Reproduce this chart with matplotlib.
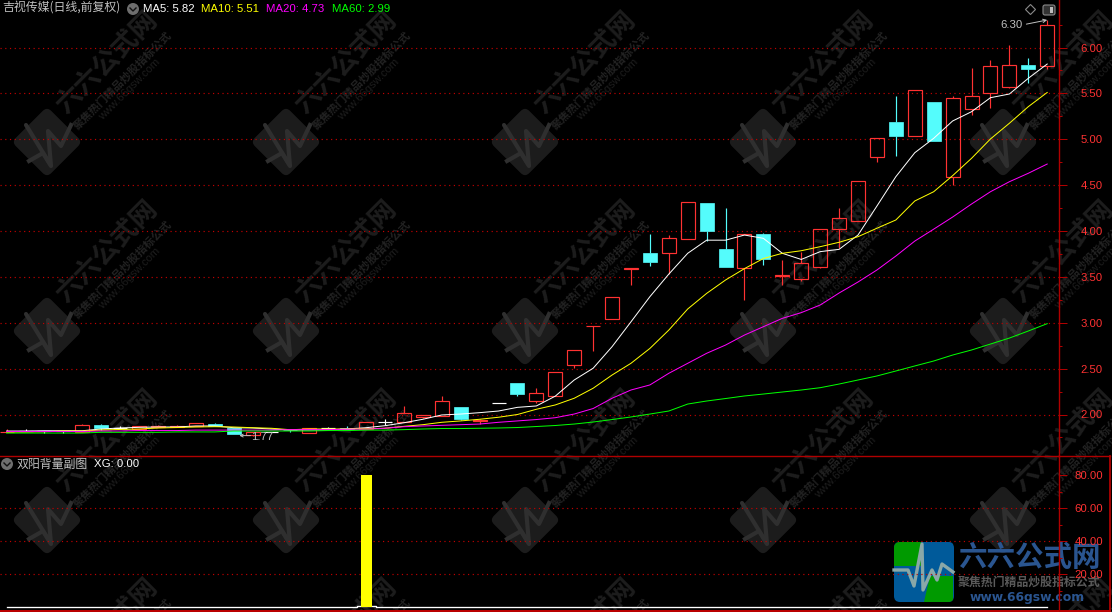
import numpy as np
import matplotlib
matplotlib.use('Agg')
import matplotlib.pyplot as plt
from matplotlib.patches import FancyBboxPatch, Polygon, Circle
from matplotlib.transforms import Affine2D
from matplotlib.ticker import FixedLocator, FuncFormatter

FONT = ['Noto Sans CJK SC', 'Liberation Sans', 'DejaVu Sans']
NUM = ['Liberation Sans', 'DejaVu Sans']

opens = [1.81,1.82,1.823,1.823,1.8125,1.886,1.85,1.84,1.86,1.86,
         1.88,1.896,1.856,1.777,1.81,1.835,1.795,1.85,1.85,1.845,
         1.915,1.92,1.976,1.987,2.082,1.93,2.122,2.343,2.15,2.205,
         2.543,2.96,3.044,3.59,3.76,3.763,3.916,4.305,3.804,3.6,
         3.967,3.505,3.48,3.611,4.018,4.112,4.81,5.188,5.032,5.406,
         4.585,5.326,5.50,5.573,5.806,5.80]
highs = [1.842,1.84,1.823,1.823,1.893,1.897,1.875,1.88,1.886,1.886,
         1.904,1.907,1.856,1.8125,1.81,1.835,1.853,1.865,1.871,1.915,
         1.948,2.089,2.0,2.2,2.082,1.955,2.122,2.343,2.289,2.46,
         2.70,2.97,3.277,3.60,3.967,3.953,4.313,4.305,4.25,3.97,
         3.98,3.684,3.774,4.02,4.247,4.548,5.01,5.471,5.533,5.406,
         5.468,5.773,5.864,6.027,5.889,6.30]
lows = [1.81,1.82,1.80,1.80,1.8125,1.83,1.85,1.84,1.86,1.86,
        1.88,1.871,1.787,1.77,1.81,1.805,1.795,1.85,1.84,1.845,
        1.886,1.915,1.96,1.987,1.94,1.893,2.122,2.205,2.122,2.205,
        2.504,2.692,3.044,3.411,3.618,3.531,3.916,3.894,3.608,3.248,
        3.633,3.411,3.458,3.593,3.81,4.112,4.755,4.817,5.032,4.984,
        4.501,5.264,5.344,5.562,5.617,5.77]
closes = [1.8125,1.82,1.823,1.823,1.886,1.853,1.85,1.875,1.875,1.875,
          1.904,1.871,1.787,1.8125,1.81,1.83,1.853,1.85,1.84,1.915,
          1.915,2.016,2.0,2.147,1.951,1.94,2.122,2.227,2.231,2.46,
          2.70,2.97,3.277,3.60,3.662,3.92,4.313,4.0,3.608,3.964,
          3.695,3.515,3.648,4.018,4.138,4.548,5.01,5.039,5.533,4.984,
          5.446,5.468,5.795,5.806,5.766,6.24]
ma5 = [1.82,1.82,1.823,1.823,1.823,1.842,1.853,1.86,1.864,1.864,
       1.875,1.875,1.856,1.853,1.842,1.831,1.831,1.831,1.842,1.856,
       1.878,1.91,1.948,1.995,2.005,2.02,2.038,2.078,2.093,2.20,
       2.376,2.504,2.739,3.01,3.284,3.53,3.757,3.90,3.90,3.956,
       3.92,3.757,3.69,3.775,3.80,3.956,4.272,4.592,4.853,5.01,
       5.199,5.30,5.453,5.493,5.664,5.82]
ma10 = [1.809,1.809,1.8125,1.82,1.82,1.831,1.837,1.842,1.853,1.858,
        1.864,1.867,1.864,1.856,1.85,1.834,1.842,1.842,1.842,1.845,
        1.85,1.871,1.889,1.915,1.93,1.948,1.97,2.0,2.057,2.104,
        2.177,2.286,2.43,2.558,2.72,2.92,3.15,3.32,3.466,3.59,
        3.70,3.757,3.785,3.829,3.877,3.938,4.03,4.12,4.327,4.428,
        4.603,4.792,5.003,5.174,5.355,5.51]
ma20 = [1.815,1.815,1.815,1.815,1.815,1.82,1.82,1.825,1.825,1.825,
        1.83,1.83,1.83,1.83,1.83,1.835,1.835,1.835,1.84,1.84,
        1.85,1.867,1.875,1.882,1.889,1.896,1.915,1.93,1.945,1.965,
        2.005,2.065,2.177,2.267,2.322,2.449,2.558,2.667,2.757,2.866,
        2.957,3.048,3.11,3.193,3.324,3.444,3.575,3.727,3.89,4.02,
        4.152,4.294,4.428,4.537,4.629,4.73]
ma60 = [1.798,1.798,1.798,1.798,1.798,1.806,1.806,1.806,1.806,1.81,
        1.81,1.81,1.82,1.82,1.82,1.82,1.82,1.825,1.825,1.83,
        1.83,1.835,1.842,1.847,1.847,1.85,1.853,1.858,1.869,1.88,
        1.896,1.918,1.945,1.973,2.005,2.038,2.114,2.147,2.174,2.202,
        2.223,2.245,2.267,2.292,2.332,2.376,2.42,2.474,2.529,2.583,
        2.648,2.703,2.768,2.833,2.91,2.99]
xg_index = [19]
xg_values = [80.0]
xg_line = [0.0]*19 + [0.9] + [0.0]*36

RED = '#ff3232'
CYAN = '#54fcfc'
AXIS = '#b00000'
GRID = '#c00000'
W, H = 1112, 612

fig = plt.figure(figsize=(W/100, H/100), dpi=100, facecolor='black')

def box(l, t, r, b):
    return [l/W, 1-b/H, (r-l)/W, (b-t)/H]

# background layer in pixel coordinates
bg = fig.add_axes([0, 0, 1, 1], zorder=0)
bg.set_xlim(0, W); bg.set_ylim(H, 0); bg.axis('off')

def watermark(cx, cy):
    s = 50
    tr = Affine2D().rotate_deg_around(cx, cy, 45) + bg.transData
    bg.add_patch(FancyBboxPatch((cx-s/2+5, cy-s/2+5), s-10, s-10,
                 boxstyle='round,pad=5,rounding_size=6', fc='#1c1c1c', ec='none', transform=tr))
    bg.plot([cx-21, cx+3], [cy-17, cy+22], color='#2f2f2f', lw=3, solid_capstyle='round')
    bg.plot([cx-18, cx-4, cx+4, cx+1, cx+14, cx+24], [cy+19, cy+11, cy+24, cy-11, cy+4, cy-17],
            color='#2f2f2f', lw=3, solid_joinstyle='round')
    bg.text(cx+60, cy-80, '六六公式网', rotation=45, rotation_mode='anchor', ha='center', va='center',
            color='#1d1d1d', fontsize=19, family=FONT, fontweight='bold', clip_on=True)
    bg.text(cx+75, cy-62, '聚焦热门精品炒股指标公式', rotation=45, rotation_mode='anchor', ha='center', va='center',
            color='#222222', fontsize=8, family=FONT, fontweight='bold', clip_on=True)
    bg.text(cx+83, cy-53, 'www.66gsw.com', rotation=45, rotation_mode='anchor', ha='center', va='center',
            color='#1d1d1d', fontsize=8, family=NUM, clip_on=True)

for cy in (142, 331, 520, 709):
    for cx in (47, 286, 525, 763, 1003):
        watermark(cx, cy)

# logo
clip = FancyBboxPatch((899, 547), 50, 50, boxstyle='round,pad=5,rounding_size=6',
                      fc='#005a9a', ec='none', transform=bg.transData)
bg.add_patch(clip)
for pts, col in (([(894, 542), (921, 542), (921, 566), (910, 566), (894, 566)], '#009a00'),
                 ([(921, 542), (953, 542), (953, 568), (921, 568)], '#005a9a'),
                 ([(930, 576), (953, 576), (953, 602), (924, 602)], '#009a00')):
    p = Polygon(pts, closed=True, fc=col, ec='none', transform=bg.transData)
    bg.add_patch(p); p.set_clip_path(clip)
bg.plot([894, 908, 914, 922, 923, 932, 937, 942, 953], [570, 570, 586, 544, 590, 570, 580, 564, 572],
        color='#8aa8a8', lw=2.4)
bg.text(1029, 558, '六六公式网', ha='center', va='center', color='#2a5590', fontsize=20.5,
        family=FONT, fontweight='bold')
bg.text(1029, 582, '聚焦热门精品炒股指标公式', ha='center', va='center', color='#5a5a5a', fontsize=8.6,
        family=FONT, fontweight='bold')
bg.text(1027, 598, 'www.66gsw.com', ha='center', va='center', color='#2a5590', fontsize=8.9,
        family='DejaVu Sans', fontweight='bold')

# shared x scale: pixel = 6.6 + 18.92 * i
def x_limits(right):
    return (0-6.6)/18.92, (right-6.6)/18.92

ax = fig.add_axes(box(0, 0, 1058.5, 455.5), zorder=1)
ax.patch.set_visible(False)
ax.set_xlim(*x_limits(1058.5))
ax.set_ylim(2+(414.5-455.5)/91.75, 2+(414.5-0)/91.75)

x = np.arange(len(opens))
o, h, l, c = map(np.array, (opens, highs, lows, closes))
up = c > o; dn = c < o; flat = c == o
top = np.maximum(o, c); bot = np.minimum(o, c)
bw = 14/18.92
for mask, col in ((up, RED), (dn, CYAN), (flat, '#ffffff')):
    ax.vlines(x[mask], top[mask], h[mask], color=col, lw=0.85, zorder=3, snap=True)
    ax.vlines(x[mask], l[mask], bot[mask], color=col, lw=0.85, zorder=3, snap=True)
ax.bar(x[up], (c-o)[up], bottom=o[up], width=bw, facecolor='none', edgecolor=RED, lw=0.85, zorder=3, snap=True)
ax.bar(x[dn], (c-o)[dn], bottom=o[dn], width=bw, facecolor=CYAN, edgecolor=CYAN, lw=0.5, zorder=3, snap=True)
ax.hlines(o[flat], x[flat]-bw/2, x[flat]+bw/2, color='#ffffff', lw=0.85, zorder=3, snap=True)

ax.plot(x, ma5, color='#ffffff', lw=0.72, zorder=4)
ax.plot(x, ma10, color='#ffff00', lw=0.72, zorder=4)
ax.plot(x, ma20, color='#ff00ff', lw=0.72, zorder=4)
ax.plot(x, ma60, color='#00ff00', lw=0.72, zorder=4)

for v in np.arange(2.0, 6.01, 0.5):
    ax.axhline(v, color=GRID, lw=0.85, dashes=(1, 3), zorder=1, snap=True)

# extreme labels
ax.annotate('', xy=(55, 6.30), xytext=(-15, -3), textcoords='offset points', xycoords='data',
            arrowprops=dict(arrowstyle='->', color='#c0c0c0', lw=0.7, shrinkA=0, shrinkB=0, mutation_scale=6))
ax.annotate('6.30', xy=(55, 6.30), xytext=(-17.5, -3.5), textcoords='offset points', ha='right', va='center',
            color='#c0c0c0', fontsize=8.2, family=NUM)
ax.annotate('', xy=(12.3, 1.77), xytext=(8, 0), textcoords='offset points',
            arrowprops=dict(arrowstyle='->', color='#c0c0c0', lw=0.7, shrinkA=0, shrinkB=0, mutation_scale=5))
ax.annotate('1.77', xy=(12.3, 1.77), xytext=(8.5, -0.8), textcoords='offset points', ha='left', va='center',
            color='#c0c0c0', fontsize=8.2, family=NUM, zorder=5)

def style_axis(a, major, minor, fmt):
    a.set_xticks([])
    a.yaxis.tick_right()
    a.yaxis.set_major_locator(FixedLocator(major))
    a.yaxis.set_minor_locator(FixedLocator(minor))
    a.yaxis.set_major_formatter(FuncFormatter(lambda v, _: fmt % v))
    a.tick_params(axis='y', which='major', length=5.8, width=0.72, color=AXIS, labelcolor=RED,
                  labelsize=8.2, pad=26.2)
    a.tick_params(axis='y', which='minor', length=2.2, width=0.72, color=AXIS)
    for lab in a.yaxis.get_ticklabels():
        lab.set_ha('right'); lab.set_family(NUM)
    for s in a.spines.values():
        s.set_visible(False)
    a.spines['right'].set_visible(True)
    a.spines['right'].set_color(AXIS)
    a.spines['right'].set_linewidth(1.0)

style_axis(ax, np.arange(2.0, 6.01, 0.5), np.arange(1.75, 6.3, 0.5), '%.2f')

# lower panel
sub = fig.add_axes(box(0, 455.5, 1058.5, 610.5), zorder=1)
sub.patch.set_visible(False)
sub.set_xlim(*x_limits(1058.5))
sub.set_ylim((607.3-610.5)/1.65, (607.3-455.5)/1.65)
for v in (20, 40, 60):
    sub.axhline(v, color=GRID, lw=0.85, dashes=(1, 3), zorder=1, snap=True)
sub.bar(xg_index, xg_values, width=11/18.92, color='#ffff00', zorder=3, lw=0)
sub.plot(x, xg_line, color='#ffffff', lw=0.95, drawstyle='steps-mid', zorder=2)
style_axis(sub, [20, 40, 60, 80], [10, 30, 50, 70], '%.2f')
sub.spines['top'].set_visible(True); sub.spines['top'].set_color(AXIS); sub.spines['top'].set_linewidth(1.0)
sub.spines['bottom'].set_visible(True); sub.spines['bottom'].set_color('#c00000'); sub.spines['bottom'].set_linewidth(1.4)

# frame bits outside the panels
bg.plot([1110, 1110], [455.5, 610.5], color=AXIS, lw=1.3, zorder=5)
bg.plot([1058, 1110], [455.5, 455.5], color=AXIS, lw=1.0, zorder=5)
bg.plot([1058, 1110], [610.5, 610.5], color='#c00000', lw=1.4, zorder=5)

# header texts
def chevron(cx, cy):
    bg.add_patch(Circle((cx, cy), 6, fc='#6e6e6e', ec='none'))
    bg.plot([cx-3, cx, cx+3], [cy-1, cy+2, cy-1], color='#111111', lw=1)

bg.text(2, 8.5, '吉视传媒(日线,前复权)', color='#c0c0c0', fontsize=8.6, family=FONT, va='center', ha='left')
chevron(133, 9)
for xp, txt, col in ((143, 'MA5: 5.82', '#ffffff'), (201, 'MA10: 5.51', '#ffff00'),
                     (266, 'MA20: 4.73', '#ff00ff'), (332, 'MA60: 2.99', '#00ff00')):
    bg.text(xp, 8.5, txt, color=col, fontsize=8.2, family=NUM, va='center', ha='left')
chevron(7, 464)
bg.text(17, 464, '双阳背量副图', color='#c0c0c0', fontsize=8.6, family=FONT, va='center', ha='left')
bg.text(94, 464, 'XG: 0.00', color='#ffffff', fontsize=8.2, family=NUM, va='center', ha='left')

# top-right tool icons
bg.add_patch(Polygon([(1030.5, 4.5), (1035.5, 9.5), (1030.5, 14.5), (1025.5, 9.5)], closed=True, fc='none',
                     ec='#8a8a8a', lw=0.8))
bg.add_patch(FancyBboxPatch((1044, 6), 10, 8, boxstyle='round,pad=1,rounding_size=2', fc='#333333', ec='#8a8a8a', lw=0.8))
bg.add_patch(FancyBboxPatch((1050, 7), 3, 6, boxstyle='square,pad=0', fc='#bdbdbd', ec='none'))

fig.savefig('out.png', dpi=100, facecolor='black')
